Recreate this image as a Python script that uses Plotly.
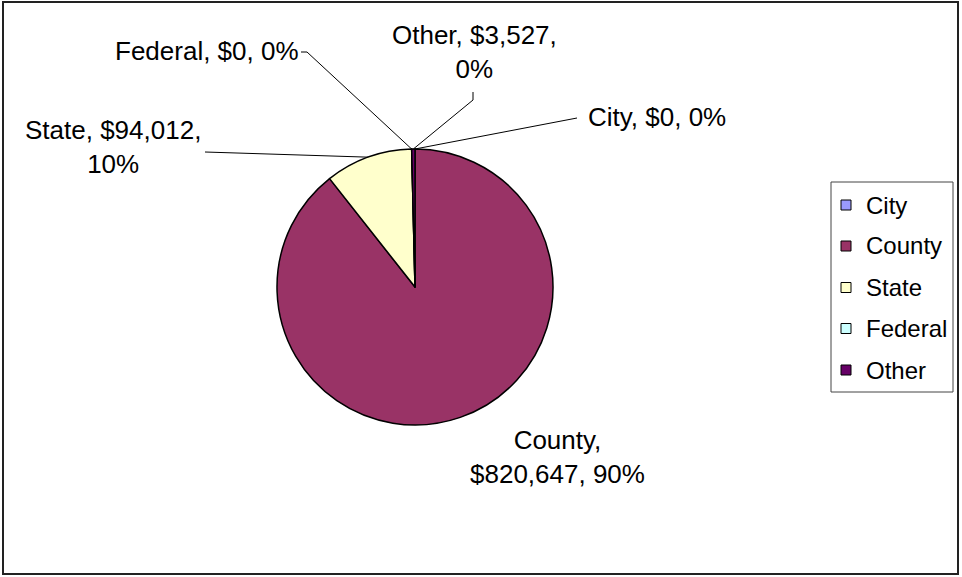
import math
import plotly.graph_objects as go

# ---------------- data ----------------
categories = ["City", "County", "State", "Federal", "Other"]
values = [0, 820647, 94012, 0, 3527]
pct_labels = ["0%", "90%", "10%", "0%", "0%"]          # as printed on the chart
colors = ["#9999FF", "#993366", "#FFFFCC", "#CCFFFF", "#660066"]

# ---------------- layout constants (pixels) ----------------
W, H = 962, 577
CX, CY, R = 415, 287, 138
FONT = dict(family="Liberation Sans, Arial, sans-serif", size=26, color="black")
LEG_FONT = dict(family="Liberation Sans, Arial, sans-serif", size=24, color="black")

def px(x):
    return x / W

def py(y):
    return 1 - y / H

# label placement: centre of text block, line-break flag, leader polyline end points
label_layout = {
    "City":    dict(x=657, y=117, brk=False, leader=[(577, 118)]),
    "County":  dict(x=557, y=457, brk=True, leader=None),
    "State":   dict(x=113, y=147, brk=True, leader=[(205, 152)]),
    "Federal": dict(x=207, y=51, brk=False, leader=[(307, 52), (301, 52)]),
    "Other":   dict(x=474, y=52, brk=True, leader=[(473, 100), (473, 92)]),
}

fig = go.Figure()
fig.add_trace(go.Pie(
    labels=categories,
    values=values,
    sort=False,
    direction="clockwise",
    rotation=0,
    textinfo="none",
    showlegend=False,
    marker=dict(colors=colors, line=dict(color="black", width=1.5)),
    domain=dict(x=[px(CX - R), px(CX + R)], y=[py(CY + R), py(CY - R)]),
))

shapes = []
annotations = []

# outer chart frame
shapes.append(dict(type="rect", xref="paper", yref="paper",
                   x0=px(3), x1=px(958), y0=py(574), y1=py(2),
                   line=dict(color="#222222", width=2)))

total = sum(values)
cum = 0
for cat, val, pct in zip(categories, values, pct_labels):
    mid = (cum + val / 2) / total
    cum += val
    ang = 2 * math.pi * mid
    ex, ey = CX + R * math.sin(ang), CY - R * math.cos(ang)
    lay = label_layout[cat]
    money = f"${val:,}"
    if lay["brk"]:
        if cat == "County":
            text = f"{cat},<br>{money}, {pct}"
        else:
            text = f"{cat}, {money},<br>{pct}"
    else:
        text = f"{cat}, {money}, {pct}"
    annotations.append(dict(x=px(lay["x"]), y=py(lay["y"]), xref="paper", yref="paper",
                            text=text, showarrow=False, xanchor="center", yanchor="middle",
                            align="center", font=FONT))
    if lay["leader"]:
        pts = [(ex, ey)] + lay["leader"]
        path = "M " + " L ".join(f"{px(a)},{py(b)}" for a, b in pts)
        shapes.append(dict(type="path", xref="paper", yref="paper", path=path,
                           line=dict(color="black", width=1)))

# legend (box, swatches, labels)
LEG_X0, LEG_X1, LEG_Y0, LEG_Y1 = 831, 953, 182, 392
shapes.append(dict(type="rect", xref="paper", yref="paper",
                   x0=px(LEG_X0), x1=px(LEG_X1), y0=py(LEG_Y1), y1=py(LEG_Y0),
                   line=dict(color="#444444", width=1)))
leg_y = [205, 246, 287.5, 328.5, 370]
for cat, col, yy in zip(categories, colors, leg_y):
    shapes.append(dict(type="rect", xref="paper", yref="paper",
                       x0=px(841), x1=px(851), y0=py(yy + 5), y1=py(yy - 5),
                       fillcolor=col, line=dict(color="black", width=1)))
    annotations.append(dict(x=px(864), y=py(yy), xref="paper", yref="paper",
                            text=cat, showarrow=False, xanchor="left", yanchor="middle",
                            font=LEG_FONT))

fig.update_layout(
    width=W, height=H,
    margin=dict(l=0, r=0, t=0, b=0),
    paper_bgcolor="white", plot_bgcolor="white",
    shapes=shapes, annotations=annotations,
)

fig.write_html("out.html", config={"displayModeBar": False},
               post_script="document.body.style.margin='0';")
